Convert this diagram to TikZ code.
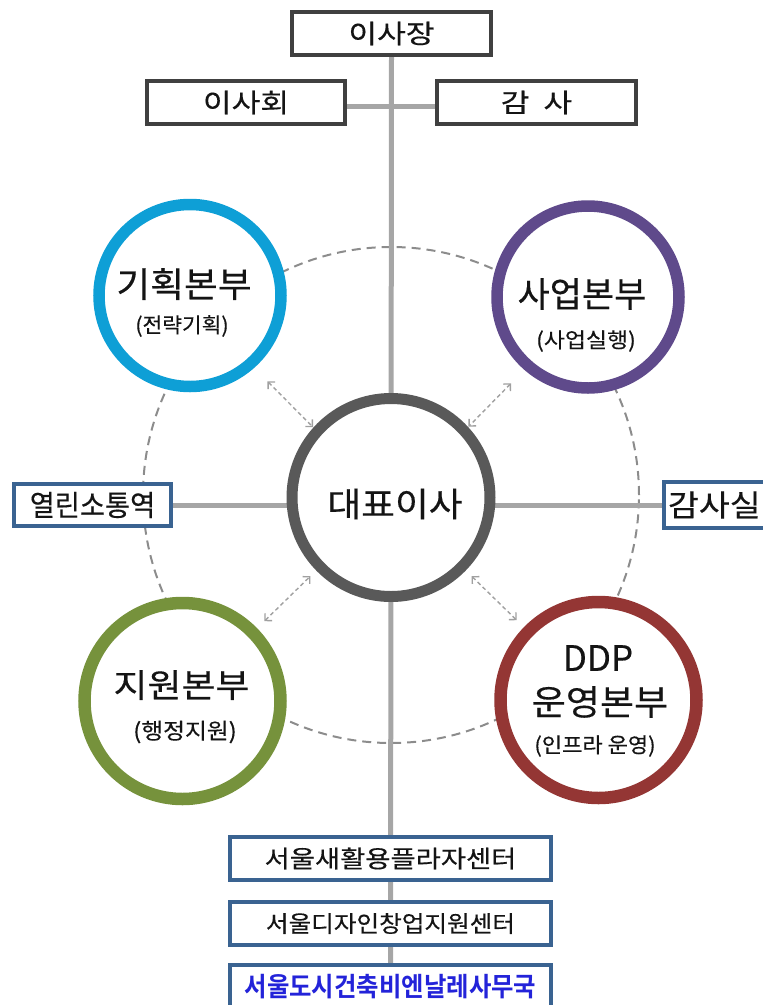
\documentclass[tikz,border=0pt]{standalone}
\usepackage{fontspec}
\usepackage{graphicx}
\setmainfont{Noto Sans CJK KR}[FakeBold=0.35]
\newfontfamily\krb{Noto Sans CJK KR Bold}
\usetikzlibrary{arrows.meta,backgrounds}
\definecolor{linegray}{HTML}{A6A6A6}
\definecolor{boxdark}{HTML}{404040}
\definecolor{boxblue}{HTML}{3A6391}
\definecolor{cblue}{HTML}{0E9FD6}
\definecolor{cpurple}{HTML}{5F4A8B}
\definecolor{cgreen}{HTML}{76923C}
\definecolor{cred}{HTML}{943634}
\definecolor{cgray}{HTML}{595959}
\definecolor{dashgray}{HTML}{8C8C8C}
\definecolor{arrgray}{HTML}{A0A0A0}
\definecolor{textblue}{HTML}{2323D9}
\definecolor{txt}{HTML}{141414}
\newcommand{\fsz}[1]{\fontsize{#1}{#1}\selectfont}
\newcommand{\sx}[2]{\scalebox{#1}[1]{#2}}
\begin{document}
\begin{tikzpicture}[x=1pt,y=-1pt,
  darkbox/.style={draw=boxdark,line width=4pt,fill=white,minimum width=199pt,minimum height=43pt,inner sep=0pt,text=txt,font=\fsz{26}},
  bluebox/.style={draw=boxblue,line width=4pt,fill=white,minimum height=42pt,inner sep=0pt,text=txt,font=\fsz{24}},
  ring/.style={circle,fill=white,inner sep=0pt},
  bigtxt/.style={inner sep=0pt,text=txt,font=\fsz{35}},
  subtxt/.style={inner sep=0pt,text=txt,font=\fsz{21}},
  conn/.style={draw=linegray,line width=5pt},
  arr/.style={draw=arrgray,line width=1.4pt,dash pattern=on 4pt off 3pt,
    {Straight Barb[length=5pt,width=10pt]}-{Straight Barb[length=5pt,width=10pt]}},
  orbit/.style={draw=dashgray,line width=2pt,dash pattern=on 9pt off 6pt}]
\useasboundingbox (0,0) rectangle (763,1005);

% top boxes
\node[darkbox] (chair) at (391.5,33.5) {\sx{1.2}{이사장}};
\node[darkbox,minimum width=198pt] (board) at (246,102.5) {\sx{1.2}{이사회}};
\node[darkbox] (audit) at (536.5,102.5) {\sx{1.2}{감}\hspace{14pt}\sx{1.2}{사}};

% side boxes
\node[bluebox,minimum width=157pt,font=\fsz{29}] (open) at (92.5,505) {\sx{0.94}{열린소통역}};
\node[bluebox,minimum width=104pt,minimum height=46pt,text width=90pt,align=left,font=\fsz{30}] (auditoff) at (716,505) {\hspace{-3pt}\sx{1.12}{감사실}};

% bottom boxes
\node[bluebox,minimum width=321pt,minimum height=43pt] (b1) at (390.5,858.5) {\sx{1.14}{서울새활용플라자센터}};
\node[bluebox,minimum width=321pt,minimum height=43pt,font=\fsz{23}] (b2) at (390.5,923.5) {\sx{1.07}{서울디자인창업지원센터}};
\node[bluebox,minimum width=321pt,minimum height=43pt,text=textblue,font=\fsz{26.5}\krb] (b3) at (390.5,986.5) {\sx{0.92}{서울도시건축비엔날레사무국}};

% circles
\node[ring,draw=cgray,line width=11pt,minimum size=198pt] (ceo) at (391,497.5) {};
\node[ring,draw=cblue,line width=11.5pt,minimum size=182pt] (plan) at (190,295.5) {};
\node[ring,draw=cpurple,line width=11.5pt,minimum size=182pt] (biz) at (588,297) {};
\node[ring,draw=cgreen,line width=12.5pt,minimum size=196pt] (supp) at (182.5,701) {};
\node[ring,draw=cred,line width=12.5pt,minimum size=196pt] (ddp) at (598.5,700) {};

% texts in circles
\node[bigtxt,font=\fsz{34}] (ceoT) at (395,504) {\sx{1.08}{대표이사}};
\node[bigtxt] (planT) at (184,284) {\sx{1.05}{기획본부}};
\node[subtxt] (planS) at (182,326) {\sx{1.02}{(전략기획)}};
\node[bigtxt] (bizT) at (582,294) {사업본부};
\node[subtxt] (bizS) at (586,341) {\sx{1.09}{(사업실행)}};
\node[bigtxt,font=\fsz{33}] (suppT) at (181.5,685) {\sx{1.12}{지원본부}};
\node[subtxt,font=\fsz{22}] (suppS) at (185,732) {\sx{1.08}{(행정지원)}};
\node[bigtxt] (ddpA) at (598,658) {DDP};
\node[bigtxt] (ddpT) at (600,702) {\sx{1.06}{운영본부}};
\node[subtxt] (ddpS) at (595,746) {\sx{1.05}{(인프라 운영)}};

% dashed arrows
\draw[arr,shorten <=13pt,shorten >=6pt,transform canvas={yshift=-8pt}] (plan) -- (ceo);
\draw[arr,shorten <=13pt,shorten >=6pt,transform canvas={yshift=-8pt}] (biz) -- (ceo);
\draw[arr,shorten <=10pt,shorten >=8pt] (supp) -- (ceo);
\draw[arr,shorten <=10pt,shorten >=8pt] (ddp) -- (ceo);

\begin{pgfonlayer}{background}
  \draw[orbit] (391,495) circle[radius=248pt];
  \draw[conn] (chair.south) -- (b3.north);
  \draw[conn] ([yshift=-4pt]board.east) -- ([yshift=-4pt]audit.west);
  \draw[conn] (open.east) -- (auditoff.west);
\end{pgfonlayer}
\end{tikzpicture}
\end{document}
